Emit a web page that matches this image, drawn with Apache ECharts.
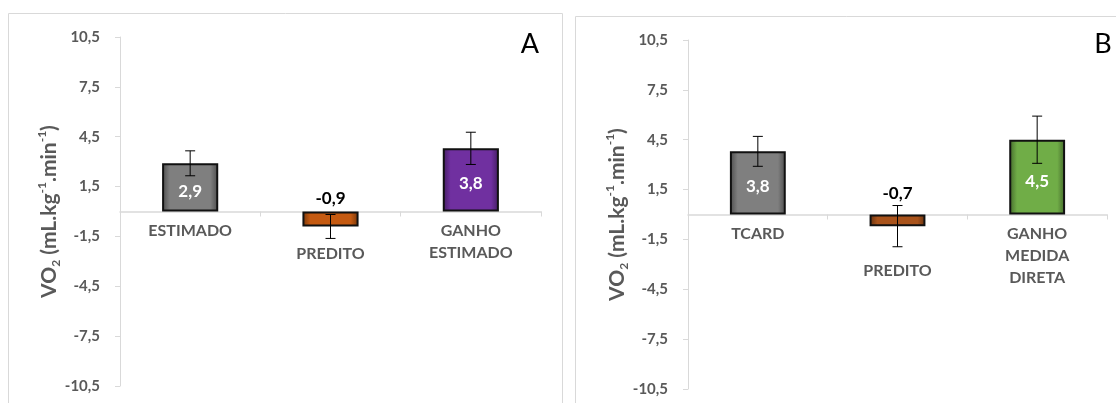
<!DOCTYPE html>
<html>
<head>
<meta charset="utf-8">
<script src="https://cdn.jsdelivr.net/npm/echarts@6/dist/echarts.min.js"></script>
<style>
html, body { margin: 0; background: #fff; }
#chart { width: 1116px; height: 403px; }
</style>
</head>
<body>
<div id="chart"></div>
<script>
// dados
var categoriesA = ['ESTIMADO', 'PREDITO', 'GANHO\nESTIMADO'];
var valuesA = [2.9, -0.9, 3.8];
var errorsA = [0.75, 0.72, 0.97];

var categoriesB = ['TCARD', 'PREDITO', 'GANHO\nMEDIDA\nDIRETA'];
var valuesB = [3.8, -0.7, 4.5];
var errorsB = [0.9, 1.24, 1.42];

var yMin = -10.5, yMax = 10.5, yStep = 3;

var colorsA = ['#7f7f7f', '#c55a11', '#7030a0'];
var colorsB = ['#7f7f7f', '#a9531b', '#70ad47'];

var chart = echarts.init(document.getElementById('chart'));
var FONT = 'Lato, "Open Sans", sans-serif';
var GREY = '#595959';
var GRID_H = 349;

function comma(v) {
    return String(v.toFixed(1)).replace('.', ',');
}

function darker(hex, k) {
    var n = parseInt(hex.slice(1), 16);
    var r = Math.round(((n >> 16) & 255) * k);
    var g = Math.round(((n >> 8) & 255) * k);
    var b = Math.round((n & 255) * k);
    return 'rgb(' + r + ',' + g + ',' + b + ')';
}

function fill(hex) {
    return new echarts.graphic.LinearGradient(0, 0, 1, 0, [
        { offset: 0, color: darker(hex, 0.6) },
        { offset: 0.14, color: hex },
        { offset: 0.86, color: hex },
        { offset: 1, color: darker(hex, 0.6) }
    ]);
}

// barras com rótulos (negativas: rótulo preto acima do zero)
function barData(values, colors, negDistance) {
    return values.map(function(v, i) {
        var item = { value: v, itemStyle: { color: fill(colors[i]) } };
        if (v < 0) {
            item.label = { position: 'top', distance: negDistance, color: '#000' };
        }
        return item;
    });
}

function errData(values, errors) {
    return values.map(function(v, i) {
        return [i, v - errors[i], v + errors[i]];
    });
}

function renderError(params, api) {
    var lo = api.coord([api.value(0), api.value(1)]);
    var hi = api.coord([api.value(0), api.value(2)]);
    var w = 5;
    var style = { stroke: '#000', lineWidth: 1 };
    return {
        type: 'group',
        children: [
            { type: 'line', shape: { x1: lo[0], y1: lo[1], x2: hi[0], y2: hi[1] }, style: style },
            { type: 'line', shape: { x1: lo[0] - w, y1: lo[1], x2: lo[0] + w, y2: lo[1] }, style: style },
            { type: 'line', shape: { x1: hi[0] - w, y1: hi[1], x2: hi[0] + w, y2: hi[1] }, style: style }
        ]
    };
}

// eixo de categorias deslocado até o zero (rótulos acompanham a linha)
function catAxis(idx, cats, predPad) {
    return {
        type: 'category',
        gridIndex: idx,
        position: 'bottom',
        offset: -GRID_H / 2,
        data: cats.map(function(c) {
            if (c === 'PREDITO') return { value: c, textStyle: { padding: [predPad, 0, 0, 0] } };
            return c;
        }),
        axisLine: { onZero: false, lineStyle: { color: '#d9d9d9', width: 1.5 } },
        axisTick: { show: true, length: 5, lineStyle: { color: '#d9d9d9' } },
        axisLabel: {
            interval: 0, color: GREY, fontWeight: 'bold', fontSize: 16,
            fontFamily: FONT, lineHeight: 22, margin: 8
        }
    };
}

function valAxis(idx) {
    return {
        type: 'value',
        gridIndex: idx,
        min: yMin,
        max: yMax,
        interval: yStep,
        name: '{b|VO}{s|2}{b| (mL.kg}{p|-1}{b|.min}{p|-1}{b|)}',
        nameLocation: 'middle',
        nameGap: 58,
        nameMoveOverlap: false,
        nameTextStyle: {
            color: GREY,
            rich: {
                b: { fontSize: 21, fontWeight: 'bold', fontFamily: FONT, color: GREY, lineHeight: 26 },
                s: { fontSize: 12, fontWeight: 'bold', fontFamily: FONT, color: GREY, lineHeight: 12, verticalAlign: 'bottom' },
                p: { fontSize: 12, fontWeight: 'bold', fontFamily: FONT, color: GREY, lineHeight: 12, verticalAlign: 'top' }
            }
        },
        axisLine: { show: true, lineStyle: { color: '#d9d9d9' } },
        axisTick: { show: true, length: 5, lineStyle: { color: '#d9d9d9' } },
        splitLine: { show: false },
        axisLabel: {
            color: GREY, fontWeight: 'bold', fontSize: 15, fontFamily: FONT, margin: 20,
            formatter: function(v) { return comma(v); }
        }
    };
}

function barSeries(idx, values, colors, negDistance) {
    return {
        type: 'bar',
        xAxisIndex: idx,
        yAxisIndex: idx,
        barWidth: '40%',
        data: barData(values, colors, negDistance),
        itemStyle: { borderColor: '#111', borderWidth: 2 },
        label: {
            show: true,
            position: 'inside',
            offset: [0, 4],
            color: '#fff',
            fontWeight: 'bold',
            fontSize: 17,
            fontFamily: FONT,
            formatter: function(p) { return comma(p.value); }
        },
        z: 2
    };
}

function errSeries(idx, values, errors) {
    return {
        type: 'custom',
        xAxisIndex: idx,
        yAxisIndex: idx,
        renderItem: renderError,
        encode: { x: 0, y: [1, 2] },
        data: errData(values, errors),
        z: 5
    };
}

var option = {
    animation: false,
    grid: [
        { left: 120, top: 37, width: 421, height: GRID_H, containLabel: false, outerBoundsMode: 'none' },
        { left: 688, top: 40, width: 419, height: GRID_H, containLabel: false, outerBoundsMode: 'none' }
    ],
    xAxis: [catAxis(0, categoriesA, 23), catAxis(1, categoriesB, 37)],
    yAxis: [valAxis(0), valAxis(1)],
    graphic: [
        { type: 'rect', shape: { x: 8.5, y: 13.5, width: 554, height: 420 }, style: { fill: 'none', stroke: '#d9d9d9', lineWidth: 1 }, silent: true },
        { type: 'rect', shape: { x: 575.5, y: 16.5, width: 560, height: 420 }, style: { fill: 'none', stroke: '#d9d9d9', lineWidth: 1 }, silent: true },
        { type: 'text', x: 530, y: 44, style: { text: 'A', fontSize: 27, fontFamily: FONT, fill: '#000', align: 'center', verticalAlign: 'middle' } },
        { type: 'text', x: 1103, y: 44, style: { text: 'B', fontSize: 27, fontFamily: FONT, fill: '#000', align: 'center', verticalAlign: 'middle' } }
    ],
    series: [
        barSeries(0, valuesA, colorsA, 8),
        errSeries(0, valuesA, errorsA),
        barSeries(1, valuesB, colorsB, 16),
        errSeries(1, valuesB, errorsB)
    ]
};

chart.setOption(option);
</script>
</body>
</html>
